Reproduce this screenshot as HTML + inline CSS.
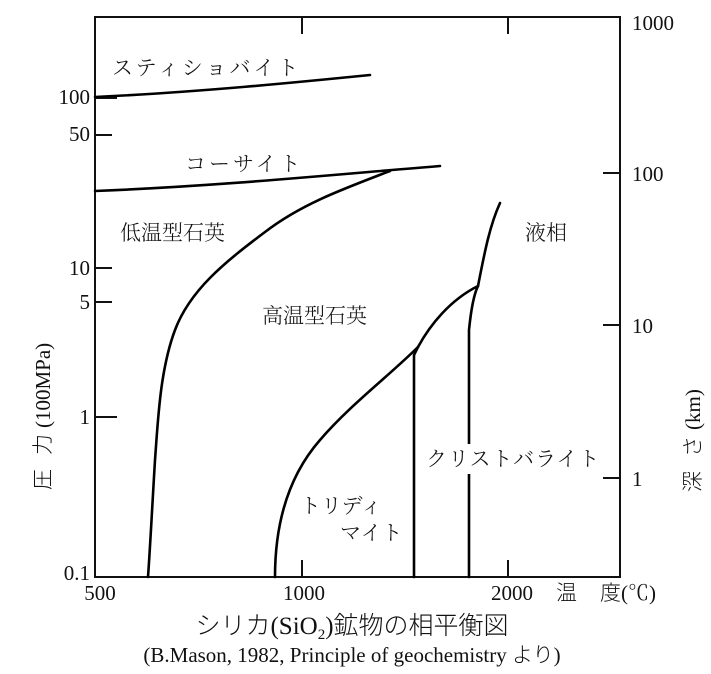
<!DOCTYPE html>
<html><head><meta charset="utf-8"><style>
body{margin:0;background:#fff;width:711px;height:674px;overflow:hidden}
svg{display:block}
text{font-family:"Liberation Serif","Noto Serif CJK SC",serif;fill:#111}
.j{font-family:"Liberation Serif","Noto Sans CJK JP",sans-serif;font-weight:300}
</style></head><body>
<svg width="711" height="674" viewBox="0 0 711 674">
<g fill="none" stroke="#111" stroke-width="2">
<rect x="95" y="17" width="525" height="560"/>
<path d="M95 268H112M95 302H112M95 135H112M95 417H117M95 98H117"/>
<path d="M603 173H620M603 325H620M603 478H620"/>
<path d="M302 577V560M508 577V560M302 17V34M508 17V34"/>
</g>
<g fill="none" stroke="#000" stroke-width="2.6" stroke-linecap="round">
<path d="M95 97 C200 92 300 82 370 75"/>
<path d="M95 191 C220 186 330 175 440 166"/>
<path d="M390 171 C340 190 300 205 265 232 C225 262 190 290 175 330 C160 370 158 420 155 460 C152 510 150 550 148 577"/>
<path d="M275 577 C275 530 285 480 320 440 C350 405 390 375 418 347"/>
<path d="M414 577V355 L418 347 C430 325 450 300 478 286"/>
<path d="M469 577V450M469 473V330 C472 300 476 290 478 286 C485 250 490 225 500 203"/>
</g>
<g font-size="21" class="j">
<text x="112" y="75" letter-spacing="3">スティショバイト</text>
<text x="185" y="171" letter-spacing="3">コーサイト</text>
<text x="120" y="240">低温型石英</text>
<text x="262" y="323">高温型石英</text>
<text x="525" y="240">液相</text>
<text x="300" y="513">トリディ</text>
<text x="340" y="540">マイト</text>
<rect x="426" y="444" width="182" height="30" fill="#fff"/>
<text x="426" y="466" letter-spacing="1">クリストバライト</text>
</g>
<g font-size="21">
<text x="90" y="104" text-anchor="end">100</text>
<text x="90" y="141" text-anchor="end">50</text>
<text x="90" y="275" text-anchor="end">10</text>
<text x="90" y="309" text-anchor="end">5</text>
<text x="90" y="424" text-anchor="end">1</text>
<text x="90" y="580" text-anchor="end">0.1</text>
<text x="632" y="30">1000</text>
<text x="632" y="181">100</text>
<text x="632" y="333">10</text>
<text x="632" y="486">1</text>
<text x="100" y="600" text-anchor="middle">500</text>
<text x="304" y="600" text-anchor="middle">1000</text>
<text x="512" y="600" text-anchor="middle">2000</text>
<text x="556" y="600" class="j">温</text>
<text x="600" y="600" class="j">度</text>
<text x="621" y="600">(℃)</text>
<text transform="translate(50,490) rotate(-90)"><tspan class="j">圧</tspan><tspan dx="14" class="j">力</tspan><tspan dx="6">(100MPa)</tspan></text>
<text transform="translate(700,492) rotate(-90)"><tspan class="j">深</tspan><tspan dx="14" class="j">さ</tspan><tspan dx="6">(km)</tspan></text>
</g>
<text x="352" y="634" text-anchor="middle" font-size="25"><tspan class="j">シリカ</tspan>(SiO<tspan font-size="15" dy="5">2</tspan><tspan dy="-5">)</tspan><tspan class="j">鉱物の相平衡図</tspan></text>
<text x="352" y="662" text-anchor="middle" font-size="21">(B.Mason, 1982, Principle of geochemistry <tspan class="j">より</tspan>)</text>
</svg>
</body></html>
